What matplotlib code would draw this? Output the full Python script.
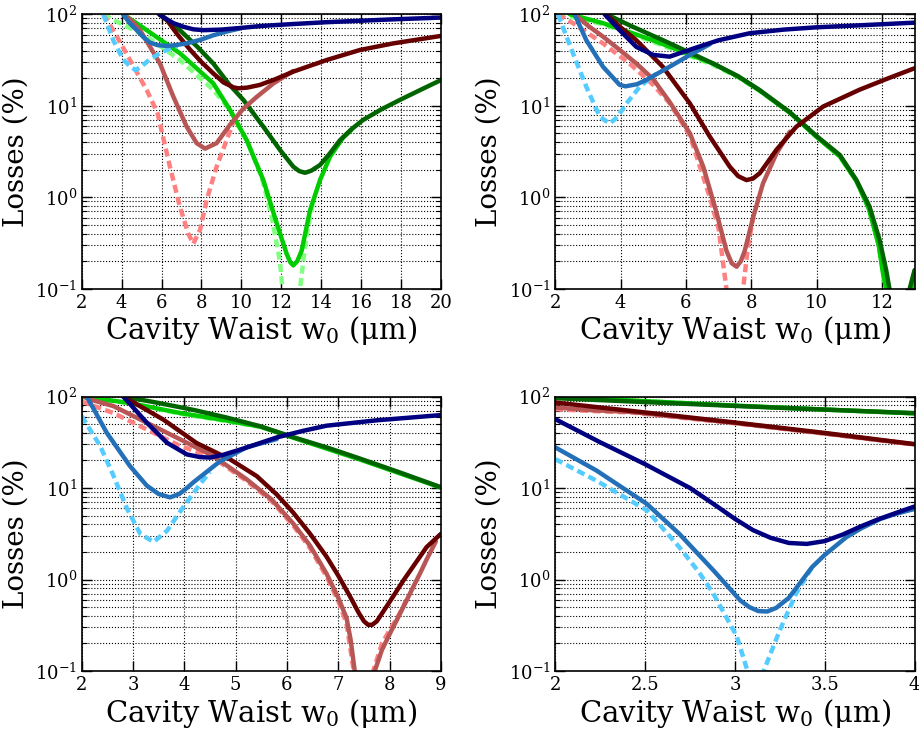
import matplotlib
matplotlib.use('Agg')
import matplotlib.pyplot as plt
from matplotlib.ticker import LogLocator, NullFormatter

plt.rcParams['font.family'] = ['DejaVu Serif']
plt.rcParams['mathtext.fontset'] = 'dejavuserif'

# colours of the nine series (same in every panel)
C_NAVY = '#000080'
C_STEEL = '#2470b8'
C_LBLUE = '#55ccff'
C_DRED = '#660000'
C_BROWN = '#b85555'
C_LRED = '#ff8080'
C_DGREEN = '#006400'
C_GREEN = '#00cc00'
C_LGREEN = '#80ff80'

# ---------------- panel 1 : w0 = 2..20 um ----------------
p1_navy_x = [5.89, 6.2, 6.59, 7.1, 7.59, 8.1, 9.0, 10.0, 11.0, 12.5, 14.3, 16.0, 17.6, 20.0]
p1_navy_y = [100, 90, 80, 73, 68.5, 67, 68, 71, 74.5, 78, 82, 85, 88, 92]
p1_steel_x = [4.08, 4.4, 4.76, 5.1, 5.42, 5.8, 6.26, 6.7, 7.26, 8.0, 8.6, 9.3, 9.93]
p1_steel_y = [100, 80, 67, 56, 49, 46, 45, 46, 48, 53, 59, 65, 70]
p1_lblue_x = [3.08, 3.3, 3.58, 3.85, 4.08, 4.42, 4.7, 5.0, 5.4, 5.92, 6.4, 6.8]
p1_lblue_y = [100, 75, 52, 40, 32, 27, 24.5, 27, 32, 37.5, 42, 45]
p1_dred_x = [5.89, 6.26, 6.8, 7.43, 8.0, 8.59, 9.1, 9.6, 9.85, 10.3, 10.93, 11.7, 12.6, 14.27, 15.94, 17.6, 20.0]
p1_dred_y = [100, 87, 60, 41, 30, 22.6, 18, 15.9, 15.5, 15.8, 16.9, 19.5, 23.6, 31.6, 40.7, 48, 58]
p1_brown_x = [4.08, 4.5, 4.92, 5.4, 5.92, 6.59, 7.26, 7.76, 8.18, 8.76, 9.43, 10.1, 10.77, 11.6, 12.6]
p1_brown_y = [100, 85, 67, 45, 29, 12.6, 5.9, 3.9, 3.4, 3.9, 6.2, 9.3, 12.5, 17.5, 24]
p1_lred_x = [3.08, 3.67, 4.42, 5.26, 5.8, 6.42, 6.92, 7.34, 7.59, 7.93, 8.26, 8.76, 9.26, 9.6]
p1_lred_y = [100, 62, 31.6, 14.8, 8.3, 2.16, 0.79, 0.40, 0.31, 0.44, 0.93, 2.16, 4.2, 6.6]
p1_dgreen_x = [5.89, 6.92, 7.8, 8.59, 9.4, 10.1, 11.1, 11.93, 12.6, 12.9, 13.19, 13.5, 13.94, 14.4, 14.94,
               15.5, 16.1, 17.0, 17.95, 19.0, 20.0]
p1_dgreen_y = [100, 67, 44, 29, 17, 11.6, 5.9, 3.3, 2.16, 1.93, 1.85, 1.95, 2.25, 2.95, 4.2,
               5.5, 7.0, 9.1, 11.6, 15, 19.1]
p1_green_x = [4.08, 5.26, 6.92, 8.59, 9.43, 10.27, 11.1, 11.77, 12.27, 12.45, 12.6, 12.8, 13.02, 13.44,
              13.94, 14.44, 15.1, 15.5]
p1_green_y = [100, 67, 37.5, 17.6, 9, 4.2, 1.54, 0.52, 0.24, 0.195, 0.18, 0.2, 0.26, 0.72,
              1.54, 2.77, 4.5, 5.4]
p1_lgreen_x = [3.08, 3.58, 5.26, 6.92, 8.59, 9.43, 10.3, 11.0, 11.52, 11.93, 12.06, 12.5, 12.94, 13.19,
               13.36, 13.6]
p1_lgreen_y = [100, 87, 57, 31.6, 14.9, 9, 4.0, 1.7, 0.61, 0.2, 0.1, 0.01, 0.1, 0.29,
               0.5, 0.9]

# ---------------- panel 2 : w0 = 2..13 um ----------------
p2_navy_x = [3.51, 3.97, 4.48, 4.99, 5.5, 6.21, 7.0, 7.95, 9.0, 9.99, 11.42, 13.0]
p2_navy_y = [100, 67, 44, 36, 34.4, 42, 52, 62, 68, 72, 76, 81]
p2_steel_x = [2.59, 2.95, 3.46, 3.97, 4.15, 4.5, 4.78, 5.5, 6.21, 6.73]
p2_steel_y = [100, 52, 26.7, 16.9, 16.3, 17.2, 19.1, 26.7, 37.5, 47]
p2_lblue_x = [2.08, 2.54, 2.95, 3.36, 3.66, 3.9, 4.18, 4.59, 5.1]
p2_lblue_y = [100, 37.5, 16.1, 7.6, 6.4, 7.5, 10.6, 16.2, 22.5]
p2_dred_x = [3.55, 4.0, 4.48, 5.29, 6.12, 6.73, 7.34, 7.6, 7.85, 8.05, 8.26, 8.77, 9.38, 10.2, 11.32,
             12.2, 13.0]
p2_dred_y = [100, 72, 52, 26.7, 10.6, 4.6, 2.16, 1.7, 1.54, 1.6, 1.83, 3.3, 5.9, 9.8, 15,
             20, 25.7]
p2_brown_x = [2.59, 3.0, 3.46, 4.0, 4.48, 5.0, 5.5, 6.12, 6.53, 6.94, 7.24, 7.4, 7.55, 7.68, 7.8,
              8.06, 8.36, 8.77, 9.18]
p2_brown_y = [100, 75, 57, 40, 29, 19.5, 11, 5.0, 2.16, 0.67, 0.26, 0.19, 0.174, 0.2, 0.26,
              0.61, 1.42, 3.0, 5.2]
p2_lred_x = [2.08, 2.54, 3.46, 4.27, 4.99, 5.5, 6.12, 6.73, 7.0, 7.24, 7.5, 7.75, 7.9, 8.06]
p2_lred_y = [100, 80, 48, 29, 17, 10.7, 4.7, 1.0, 0.45, 0.1, 0.02, 0.1, 0.29, 0.6]
p2_dgreen_x = [3.57, 4.3, 5.3, 6.83, 7.6, 8.25, 9.18, 9.99, 10.71, 11.22, 11.62, 11.93, 12.13, 12.23,
               12.55, 12.85, 13.0]
p2_dgreen_y = [100, 75, 52, 29, 21, 14.9, 8.5, 4.7, 2.9, 1.54, 0.79, 0.34, 0.16, 0.1,
               0.01, 0.1, 0.16]
p2_green_x = [2.44, 3.46, 4.99, 6.82, 7.6, 8.25, 9.18, 9.99, 10.71, 11.22, 11.6, 11.9, 12.03, 12.13,
              12.5, 12.9, 13.0]
p2_green_y = [100, 80, 52, 29, 20.8, 14.7, 8.4, 4.6, 2.8, 1.5, 0.75, 0.3, 0.15, 0.1,
              0.01, 0.08, 0.12]
p2_lgreen_x = [2.08, 2.5, 3.46, 4.99, 6.82, 7.6, 8.25, 9.18, 9.99, 10.71, 11.22, 11.6, 11.9, 12.03,
               12.5, 12.9, 13.0]
p2_lgreen_y = [100, 93, 78, 50, 28, 20.5, 14.6, 8.4, 4.6, 2.8, 1.5, 0.75, 0.3, 0.15,
               0.01, 0.08, 0.12]

# ---------------- panel 3 : w0 = 2..9 um ----------------
p3_navy_x = [2.81, 3.27, 3.66, 4.05, 4.3, 4.5, 4.75, 5.15, 5.8, 6.3, 6.77, 7.75, 9.0]
p3_navy_y = [100, 51.7, 31.3, 23.3, 21.8, 21.5, 23, 27, 35.7, 42, 48, 55, 62.7]
p3_steel_x = [2.1, 2.49, 2.94, 3.27, 3.5, 3.72, 3.9, 4.05, 4.18, 4.4, 4.69, 5.21, 5.8]
p3_steel_y = [100, 40, 17.4, 10.6, 8.6, 7.9, 8.6, 10.0, 11.6, 14.5, 19.5, 27.8, 34.3]
p3_lblue_x = [2.0, 2.36, 2.62, 2.88, 3.14, 3.4, 3.66, 3.98, 4.31, 4.5]
p3_lblue_y = [61, 28.8, 13.6, 6.0, 3.16, 2.57, 3.4, 6.2, 11.1, 15]
p3_dred_x = [2.81, 3.59, 4.24, 4.89, 5.41, 5.8, 6.12, 6.45, 6.77, 7.0, 7.23, 7.4, 7.5, 7.58, 7.66,
             7.75, 7.88, 8.05, 8.27, 8.5, 8.72, 9.0]
p3_dred_y = [100, 56, 31, 20.6, 13.5, 8.5, 5.4, 3.16, 1.78, 1.1, 0.65, 0.43, 0.35, 0.32, 0.32,
             0.35, 0.45, 0.63, 0.98, 1.5, 2.26, 3.16]
p3_brown_x = [2.08, 2.16, 2.62, 3.27, 3.92, 4.56, 5.21, 5.7, 6.12, 6.45, 6.77, 7.0, 7.16, 7.24, 7.32,
              7.5, 7.71, 7.85, 8.01, 8.17, 8.33, 8.46, 8.59, 8.72, 8.9]
p3_brown_y = [97, 93, 78.5, 51.7, 34, 22.4, 12.5, 7.5, 4.1, 2.34, 1.16, 0.63, 0.38, 0.22, 0.1,
              0.02, 0.1, 0.17, 0.26, 0.39, 0.59, 0.83, 1.16, 1.65, 2.6]
p3_lred_x = [2.0, 2.62, 3.27, 3.92, 4.56, 5.21, 5.7, 6.12, 6.45, 6.77, 7.0, 7.16, 7.3, 7.5, 7.68,
             7.85, 8.0, 8.17, 8.33]
p3_lred_y = [88, 66, 43.6, 28.9, 21.5, 12, 7.2, 3.9, 2.2, 1.08, 0.58, 0.33, 0.1, 0.02, 0.1,
             0.2, 0.28, 0.4, 0.6]
p3_dgreen_x = [2.81, 3.5, 4.2, 4.82, 5.47, 6.12, 6.8, 7.42, 8.2, 9.0]
p3_dgreen_y = [100, 85, 71, 59, 47.5, 36, 27.5, 21, 14.8, 10.2]
p3_green_x = [2.0, 2.94, 3.92, 4.8, 5.47, 6.12, 7.42, 9.0]
p3_green_y = [100, 85, 66, 55, 47, 35.5, 20.5, 10.1]
p3_lgreen_x = [2.0, 2.94, 3.92, 4.8, 5.47]
p3_lgreen_y = [100, 84, 65, 54, 46.5]

# ---------------- panel 4 : w0 = 2..4 um ----------------
p4_navy_x = [2.0, 2.25, 2.5, 2.75, 2.9, 3.0, 3.1, 3.2, 3.3, 3.4, 3.5, 3.6, 3.7, 3.8, 3.9, 4.0]
p4_navy_y = [56.6, 31.6, 18.2, 10, 6.3, 4.6, 3.47, 2.85, 2.51, 2.45, 2.63, 3.1, 3.8, 4.57, 5.37, 6.28]
p4_steel_x = [2.0, 2.23, 2.51, 2.69, 2.88, 3.03, 3.08, 3.13, 3.18, 3.23, 3.3, 3.35, 3.43, 3.5, 3.62,
              3.7, 3.81, 3.9, 4.0]
p4_steel_y = [27.8, 15.5, 6.7, 3.16, 1.26, 0.59, 0.5, 0.452, 0.447, 0.49, 0.63, 0.85, 1.37, 1.86, 2.9,
              3.6, 4.6, 5.25, 5.9]
p4_lblue_x = [2.0, 2.23, 2.51, 2.69, 2.8, 2.88, 3.01, 3.07, 3.12, 3.16, 3.25, 3.34, 3.43]
p4_lblue_y = [20.7, 12, 5.7, 2.26, 1.2, 0.70, 0.24, 0.1, 0.07, 0.1, 0.28, 0.70, 1.37]
p4_dred_x = [2.0, 2.5, 3.0, 3.5, 4.0]
p4_dred_y = [86, 67, 52, 40, 30.2]
p4_brown_x = [2.0, 2.2, 2.42, 3.0, 3.5, 4.0]
p4_brown_y = [75.8, 71, 68, 51.5, 39.5, 30]
p4_lred_x = [2.0, 2.2, 2.42, 3.0, 3.5, 4.0]
p4_lred_y = [72.8, 69.5, 67, 51, 39.3, 29.8]
p4_dgreen_x = [2.0, 2.5, 3.0, 3.5, 4.0]
p4_dgreen_y = [96, 87, 79, 72, 65.8]
p4_green_x = [2.0, 2.5, 3.0, 3.5, 4.0]
p4_green_y = [100, 89, 79.5, 72, 65.5]
p4_lgreen_x = [2.0, 2.5, 3.0, 3.5, 4.0]
p4_lgreen_y = [100, 89, 79.5, 72, 65.5]

p1_xticks = [2, 4, 6, 8, 10, 12, 14, 16, 18, 20]
p2_xticks = [2, 4, 6, 8, 10, 12]
p3_xticks = [2, 3, 4, 5, 6, 7, 8, 9]
p4_xticks = [2, 2.5, 3, 3.5, 4]
p4_xticklabels = ['2', '2.5', '3', '3.5', '4']

XLABEL = 'Cavity Waist w$_0$ (μm)'
YLABEL = 'Losses (%)'


def draw_panel(ax, series, xlim, xticks, xticklabels=None):
    # dashed (light) first, then the solid ones on top
    for x, y, color, dashed in series:
        if dashed:
            ax.plot(x, y, color=color, lw=3.2, dashes=(1.8, 1.0))
        else:
            ax.plot(x, y, color=color, lw=3.2, solid_capstyle='round', solid_joinstyle='round')
    ax.set_yscale('log')
    ax.set_ylim(0.1, 100)
    ax.set_xlim(*xlim)
    ax.set_xticks(xticks)
    if xticklabels is not None:
        ax.set_xticklabels(xticklabels)
    ax.yaxis.set_minor_locator(LogLocator(base=10, subs=range(2, 10)))
    ax.yaxis.set_minor_formatter(NullFormatter())
    ax.grid(True, which='major', color='black', ls=':', lw=0.8)
    ax.grid(True, which='minor', axis='y', color='black', ls=':', lw=0.8)
    ax.tick_params(which='both', direction='in', top=True, right=True, labelsize=13)
    ax.tick_params(which='major', length=7, width=1)
    ax.tick_params(which='minor', length=3.5, width=0.8)
    for s in ax.spines.values():
        s.set_linewidth(1.2)
    ax.set_xlabel(XLABEL, fontsize=21, labelpad=2)
    ax.set_ylabel(YLABEL, fontsize=20, labelpad=4)


def series_list(p):
    return [
        (p['lgreen'][0], p['lgreen'][1], C_LGREEN, True),
        (p['green'][0], p['green'][1], C_GREEN, False),
        (p['dgreen'][0], p['dgreen'][1], C_DGREEN, False),
        (p['lred'][0], p['lred'][1], C_LRED, True),
        (p['brown'][0], p['brown'][1], C_BROWN, False),
        (p['dred'][0], p['dred'][1], C_DRED, False),
        (p['lblue'][0], p['lblue'][1], C_LBLUE, True),
        (p['steel'][0], p['steel'][1], C_STEEL, False),
        (p['navy'][0], p['navy'][1], C_NAVY, False),
    ]


def collect(prefix):
    g = globals()
    names = ['navy', 'steel', 'lblue', 'dred', 'brown', 'lred', 'dgreen', 'green', 'lgreen']
    return {n: (g[prefix + n + '_x'], g[prefix + n + '_y']) for n in names}


def main():
    fig = plt.figure(figsize=(9.2, 7.43), dpi=100)
    lefts = [0.0888, 0.6036]
    w = 0.3905
    h = 0.3694
    bottoms = [0.6114, 0.0969]
    ax1 = fig.add_axes([lefts[0], bottoms[0], w, h])
    ax2 = fig.add_axes([lefts[1], bottoms[0], w, h])
    ax3 = fig.add_axes([lefts[0], bottoms[1], w, h])
    ax4 = fig.add_axes([lefts[1], bottoms[1], w, h])

    draw_panel(ax1, series_list(collect('p1_')), (2, 20), p1_xticks)
    draw_panel(ax2, series_list(collect('p2_')), (2, 13), p2_xticks)
    draw_panel(ax3, series_list(collect('p3_')), (2, 9), p3_xticks)
    draw_panel(ax4, series_list(collect('p4_')), (2, 4), p4_xticks, p4_xticklabels)

    fig.savefig('out.png', dpi=100)


if __name__ == '__main__':
    main()
